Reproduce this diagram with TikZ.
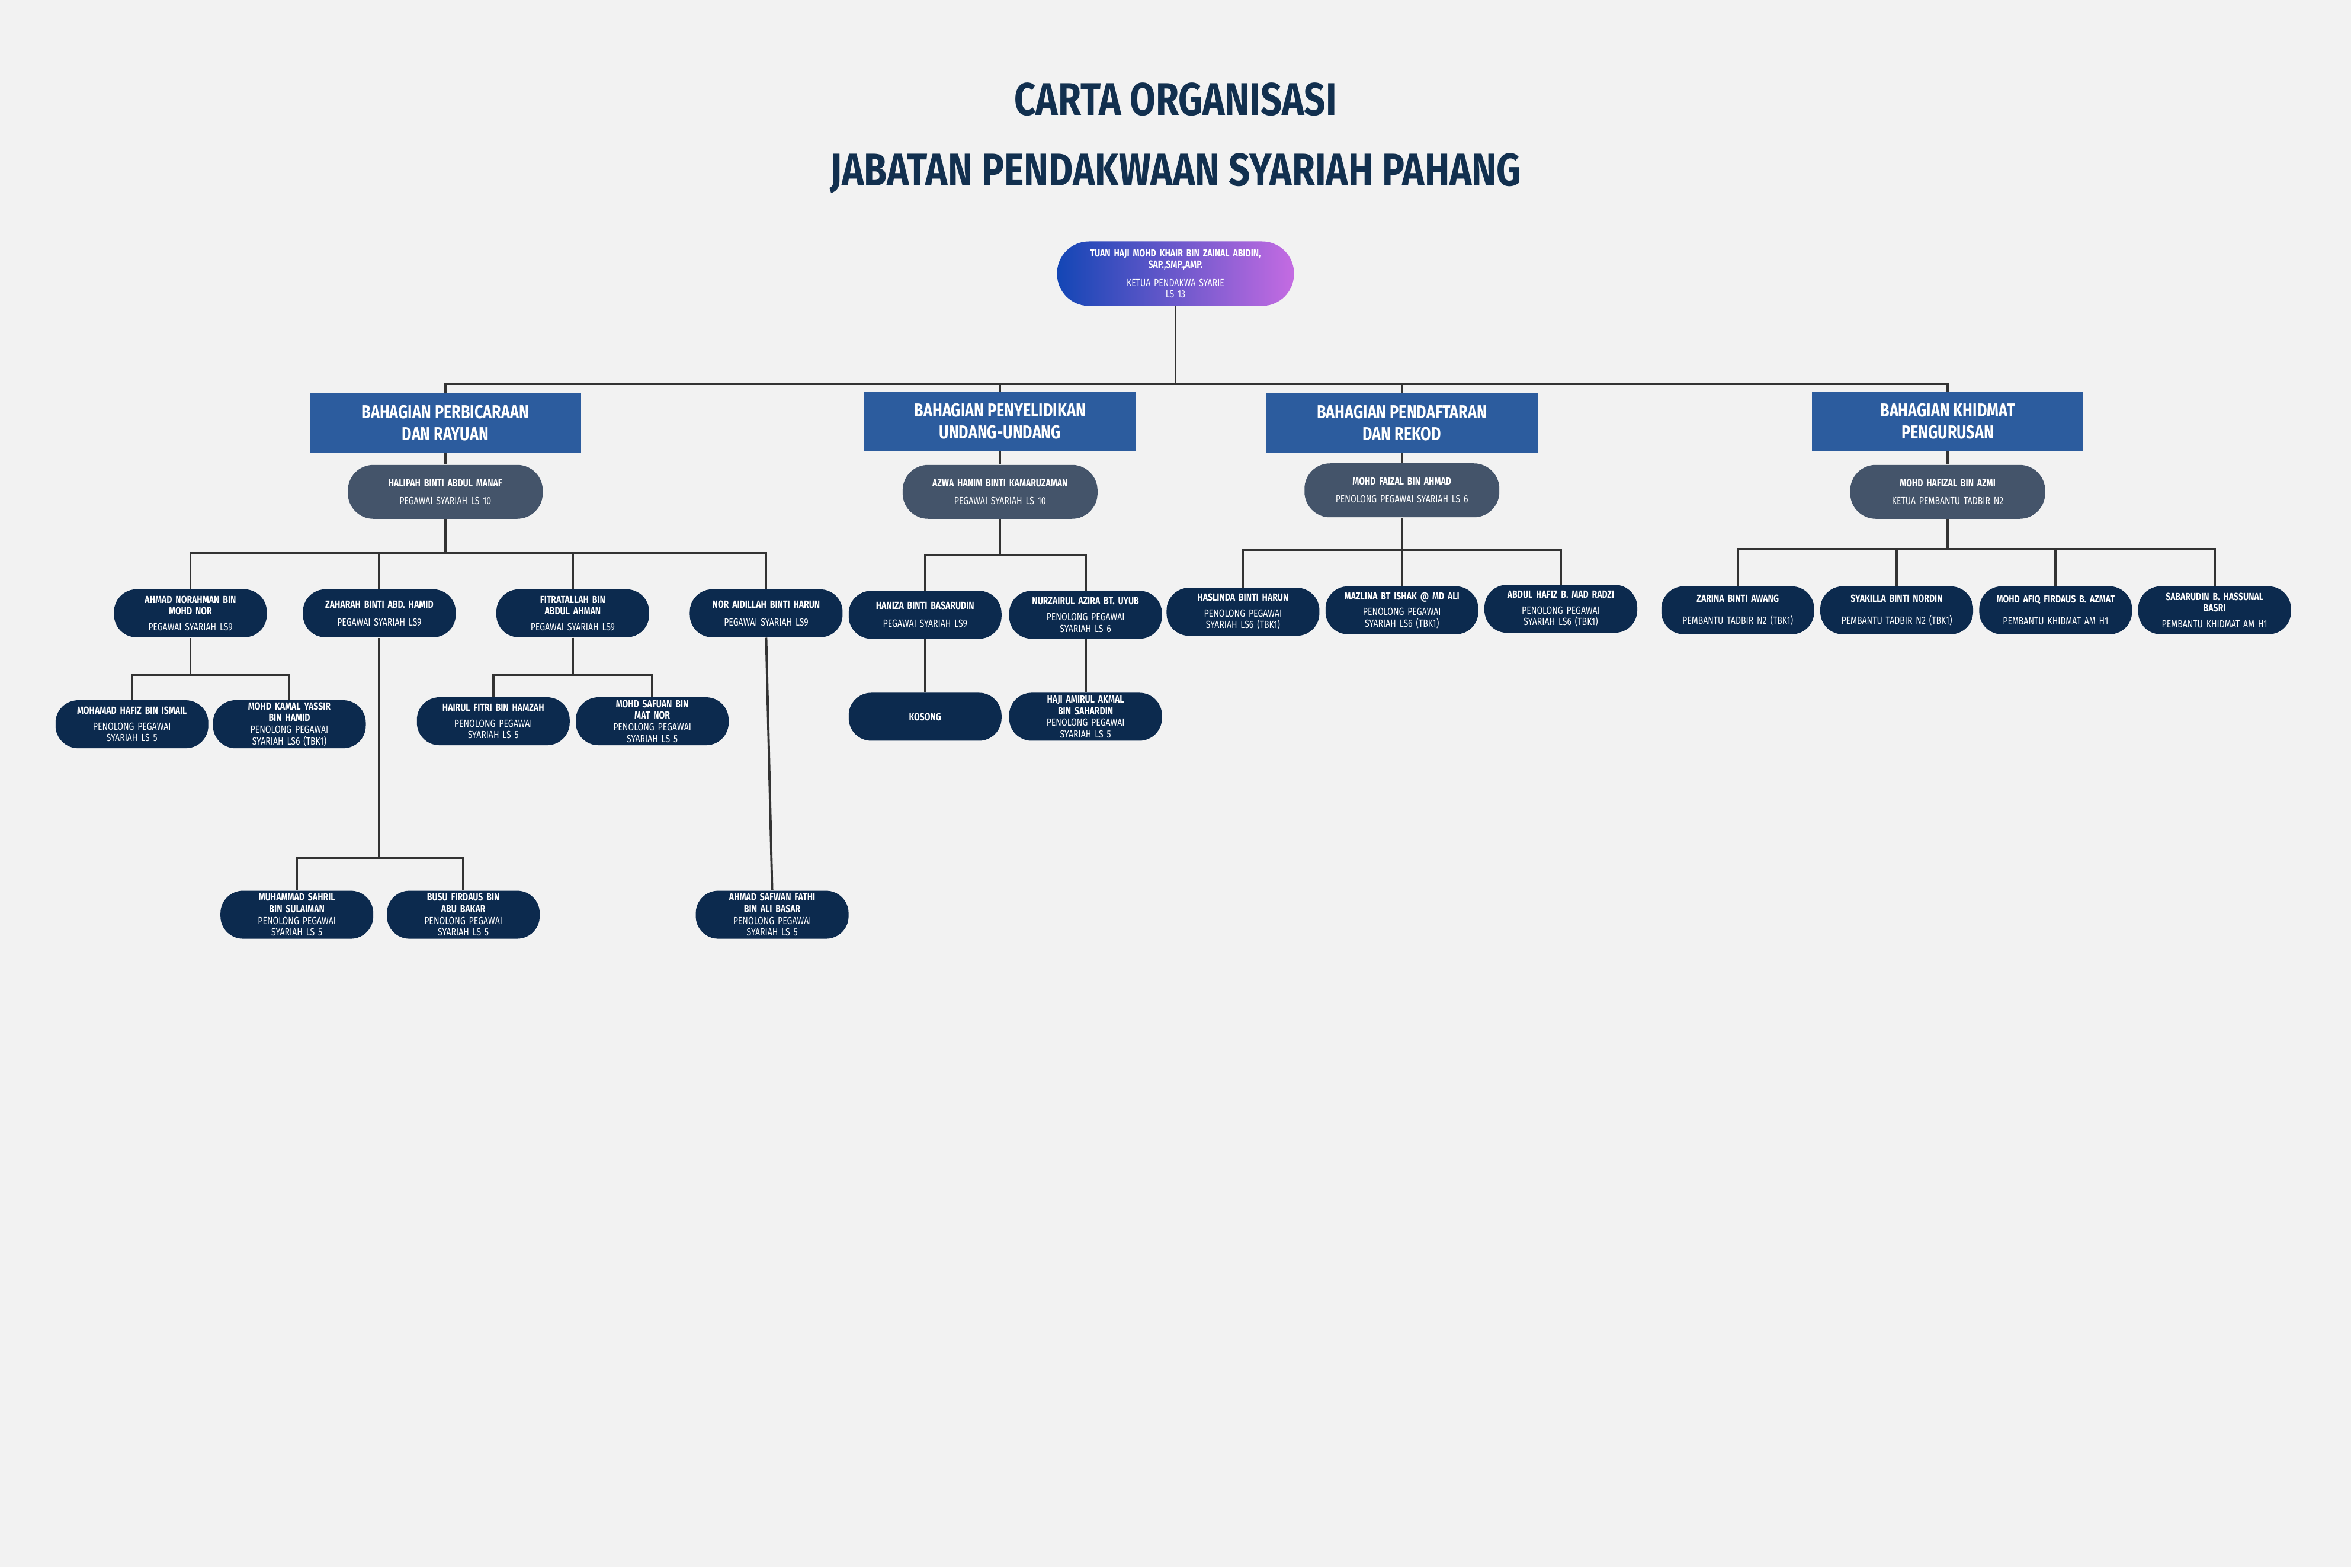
\documentclass[tikz,border=0pt]{standalone}
\usepackage{fontspec}
\setmainfont{Fira Sans}[FakeStretch=0.8]
\newfontfamily\ttlfont{Fira Sans}[FakeStretch=0.82]
\definecolor{bgc}{HTML}{F2F2F2}
\definecolor{navy}{HTML}{0C2A4E}
\definecolor{dept}{HTML}{2C5C9E}
\definecolor{mgr}{HTML}{44546A}
\definecolor{ttl}{HTML}{12304F}
\definecolor{lnc}{HTML}{333333}
\definecolor{gA}{HTML}{1346B5}
\definecolor{gB}{HTML}{C46BE2}
\newcommand{\nm}[1]{{\bfseries #1}}
\tikzset{
  pill/.style={rounded corners=0.38cm, text=white, align=center, inner sep=1pt,
    font=\fontsize{5}{5.6}\selectfont, minimum width=2.58cm, minimum height=0.81cm, text width=2.45cm},
  leaf/.style={pill, fill=navy},
  mgrbox/.style={pill, fill=mgr, minimum width=3.29cm, minimum height=0.91cm, text width=3.1cm, rounded corners=0.43cm},
  deptbox/.style={fill=dept, text=white, align=center, minimum width=4.58cm, minimum height=1.0cm,
    font=\fontsize{9}{10.5}\selectfont\bfseries, inner sep=1pt},
  conn/.style={draw=lnc, line width=1.1pt}
}
\begin{document}
\begin{tikzpicture}[x=0.02531cm,y=-0.02531cm]
\fill[bgc] (0,0) rectangle (1568,1045.4);
\useasboundingbox (0,0) rectangle (1568,1045.4);
\node[text=ttl, align=center, font=\ttlfont\fontsize{22}{34}\selectfont\bfseries] (title) at (784,92) {CARTA ORGANISASI\\JABATAN PENDAKWAAN SYARIAH PAHANG};
% top
\node[pill, left color=gA, right color=gB, minimum width=4.0cm, minimum height=1.09cm, text width=3.8cm, rounded corners=0.54cm] (top) at (784,182.5)
 {\nm{TUAN HAJI MOHD KHAIR BIN ZAINAL ABIDIN,\\SAP.,SMP.,AMP.}\\[3pt]KETUA PENDAKWA SYARIE\\LS 13};
% departments
\node[deptbox] (d1) at (297,282) {BAHAGIAN PERBICARAAN\\DAN RAYUAN};
\node[deptbox] (d2) at (667,281) {BAHAGIAN PENYELIDIKAN\\UNDANG-UNDANG};
\node[deptbox] (d3) at (935,282) {BAHAGIAN PENDAFTARAN\\DAN REKOD};
\node[deptbox] (d4) at (1299,281) {BAHAGIAN KHIDMAT\\PENGURUSAN};
% managers
\node[mgrbox] (m1) at (297,328) {\nm{HALIPAH BINTI ABDUL MANAF}\\[3pt]PEGAWAI SYARIAH LS 10};
\node[mgrbox] (m2) at (667,328) {\nm{AZWA HANIM BINTI KAMARUZAMAN}\\[3pt]PEGAWAI SYARIAH LS 10};
\node[mgrbox] (m3) at (935,327) {\nm{MOHD FAIZAL BIN AHMAD}\\[3pt]PENOLONG PEGAWAI SYARIAH LS 6};
\node[mgrbox] (m4) at (1299,328) {\nm{MOHD HAFIZAL BIN AZMI}\\[3pt]KETUA PEMBANTU TADBIR N2};
% branch 1
\node[leaf] (a1) at (127,409) {\nm{AHMAD NORAHMAN BIN\\MOHD NOR}\\[2pt]PEGAWAI SYARIAH LS9};
\node[leaf] (a2) at (253,409) {\nm{ZAHARAH BINTI ABD. HAMID}\\[3pt]PEGAWAI SYARIAH LS9};
\node[leaf] (a3) at (382,409) {\nm{FITRATALLAH BIN\\ABDUL AHMAN}\\[2pt]PEGAWAI SYARIAH LS9};
\node[leaf] (a4) at (511,409) {\nm{NOR AIDILLAH BINTI HARUN}\\[3pt]PEGAWAI SYARIAH LS9};
\node[leaf] (a11) at (88,483) {\nm{MOHAMAD HAFIZ BIN ISMAIL}\\[2pt]PENOLONG PEGAWAI\\SYARIAH LS 5};
\node[leaf] (a12) at (193,483) {\nm{MOHD KAMAL YASSIR\\BIN HAMID}\\PENOLONG PEGAWAI\\SYARIAH LS6 (TBK1)};
\node[leaf] (a31) at (329,481) {\nm{HAIRUL FITRI BIN HAMZAH}\\[2pt]PENOLONG PEGAWAI\\SYARIAH LS 5};
\node[leaf] (a32) at (435,481) {\nm{MOHD SAFUAN BIN\\MAT NOR}\\PENOLONG PEGAWAI\\SYARIAH LS 5};
\node[leaf] (a21) at (198,610) {\nm{MUHAMMAD SAHRIL\\BIN SULAIMAN}\\PENOLONG PEGAWAI\\SYARIAH LS 5};
\node[leaf] (a22) at (309,610) {\nm{BUSU FIRDAUS BIN\\ABU BAKAR}\\PENOLONG PEGAWAI\\SYARIAH LS 5};
\node[leaf] (a41) at (515,610) {\nm{AHMAD SAFWAN FATHI\\BIN ALI BASAR}\\PENOLONG PEGAWAI\\SYARIAH LS 5};
% branch 2
\node[leaf] (b1) at (617,410) {\nm{HANIZA BINTI BASARUDIN}\\[3pt]PEGAWAI SYARIAH LS9};
\node[leaf] (b2) at (724,410) {\nm{NURZAIRUL AZIRA BT. UYUB}\\[2pt]PENOLONG PEGAWAI\\SYARIAH LS 6};
\node[leaf] (b11) at (617,478) {\nm{KOSONG}};
\node[leaf] (b21) at (724,478) {\nm{HAJI AMIRUL AKMAL\\BIN SAHARDIN}\\PENOLONG PEGAWAI\\SYARIAH LS 5};
% branch 3
\node[leaf] (c1) at (829,408) {\nm{HASLINDA BINTI HARUN}\\[2pt]PENOLONG PEGAWAI\\SYARIAH LS6 (TBK1)};
\node[leaf] (c2) at (935,407) {\nm{MAZLINA BT ISHAK @ MD ALI}\\[2pt]PENOLONG PEGAWAI\\SYARIAH LS6 (TBK1)};
\node[leaf] (c3) at (1041,406) {\nm{ABDUL HAFIZ B. MAD RADZI}\\[2pt]PENOLONG PEGAWAI\\SYARIAH LS6 (TBK1)};
% branch 4
\node[leaf] (e1) at (1159,407) {\nm{ZARINA BINTI AWANG}\\[5pt]PEMBANTU TADBIR N2 (TBK1)};
\node[leaf] (e2) at (1265,407) {\nm{SYAKILLA BINTI NORDIN}\\[5pt]PEMBANTU TADBIR N2 (TBK1)};
\node[leaf] (e3) at (1371,407) {\nm{MOHD AFIQ FIRDAUS B. AZMAT}\\[5pt]PEMBANTU KHIDMAT AM H1};
\node[leaf] (e4) at (1477,407) {\nm{SABARUDIN B. HASSUNAL\\BASRI}\\[2pt]PEMBANTU KHIDMAT AM H1};
% bus coordinates
\coordinate (y0) at (0,256);
\coordinate (y1) at (0,369);
\coordinate (y2) at (0,370);
\coordinate (y3) at (0,367);
\coordinate (y4) at (0,366);
\coordinate (ya1) at (0,450);
\coordinate (ya3) at (0,450);
\coordinate (ya2) at (0,572);
% connectors
\foreach \c in {d1,d2,d3,d4} \draw[conn] (top.south) -- (top.south|-y0) -| (\c.north);
\foreach \d/\m in {d1/m1,d2/m2,d3/m3,d4/m4} \draw[conn] (\d.south) -- (\m.north);
\foreach \c in {a1,a2,a3,a4} \draw[conn] (m1.south) -- (m1.south|-y1) -| (\c.north);
\foreach \c in {b1,b2} \draw[conn] (m2.south) -- (m2.south|-y2) -| (\c.north);
\foreach \c in {c1,c2,c3} \draw[conn] (m3.south) -- (m3.south|-y3) -| (\c.north);
\foreach \c in {e1,e2,e3,e4} \draw[conn] (m4.south) -- (m4.south|-y4) -| (\c.north);
\foreach \c in {a11,a12} \draw[conn] (a1.south) -- (a1.south|-ya1) -| (\c.north);
\foreach \c in {a31,a32} \draw[conn] (a3.south) -- (a3.south|-ya3) -| (\c.north);
\foreach \c in {a21,a22} \draw[conn] (a2.south) -- (a2.south|-ya2) -| (\c.north);
\draw[conn] (a4.south) -- (a41.north);
\draw[conn] (b1.south) -- (b11.north);
\draw[conn] (b2.south) -- (b21.north);
\end{tikzpicture}
\end{document}
